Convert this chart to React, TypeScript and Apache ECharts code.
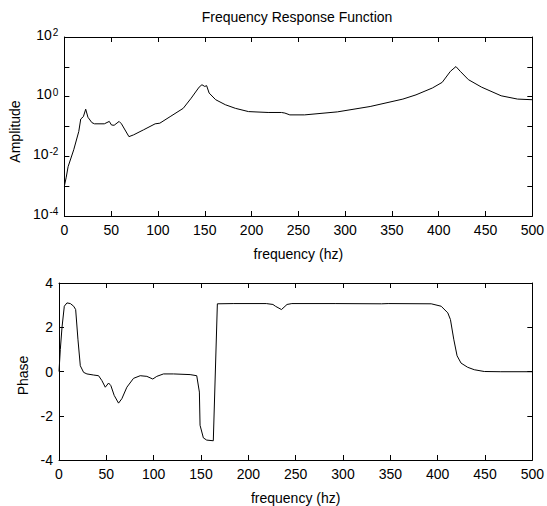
import React, { useEffect, useRef } from "react";
import * as echarts from "echarts";

const TITLE = "Frequency Response Function";
const X_NAME = "frequency (hz)";
const AMP_NAME = "Amplitude";
const PHASE_NAME = "Phase";

const ampFreq = [
  0, 2, 4, 10, 15.4, 17.5, 20.3, 22.8, 25.2, 29.4, 32.2, 42.7, 48, 50.4, 53.2, 58.5, 61, 69, 74, 84.7,
  97, 102, 113, 127, 135.5, 144, 147, 150, 152, 154.7, 161.7, 172, 182.7, 196.7, 217.7, 232, 235.6,
  240.9, 256.7, 291.7, 326.7, 361.7, 375.7, 393.2, 403.7, 412.5, 418.4, 423, 431.7, 445.7, 466.7,
  484.2, 500,
];
const amplitude = [
  0.001, 0.002, 0.0045, 0.0166, 0.068, 0.178, 0.214, 0.38, 0.204, 0.135, 0.123, 0.123, 0.148, 0.112,
  0.11, 0.148, 0.123, 0.0457, 0.0525, 0.0776, 0.123, 0.129, 0.214, 0.407, 0.89, 2.09, 2.51, 2.2, 2.34,
  1.32, 0.79, 0.537, 0.407, 0.316, 0.295, 0.295, 0.282, 0.245, 0.245, 0.309, 0.468, 0.83, 1.15, 1.95,
  3.02, 7.08, 10.2, 7.08, 3.72, 2.09, 1.07, 0.83, 0.79,
];

const phaseFreq = [
  0, 1.4, 3.2, 5.6, 8.4, 12, 15.5, 17.6, 20, 22.5, 26, 29.5, 36.6, 41.8, 45.3, 48.9, 52.4, 54.8, 58.3,
  62.9, 66.4, 71.7, 78.7, 85.8, 92.8, 99.1, 103.3, 110.4, 121, 138.5, 145.5, 148.3, 149, 152.5, 156,
  163, 167.3, 184, 219, 226, 228.6, 235, 240.9, 246, 291.7, 340.7, 347.7, 393.2, 403.7, 410.7, 413.5,
  417, 420.5, 424.7, 431.7, 438.7, 449.3, 466.7, 500,
];
const phase = [
  0, 1.0, 2.0, 2.95, 3.1, 3.07, 2.95, 2.8, 1.46, 0.26, -0.04, -0.11, -0.16, -0.19, -0.41, -0.71, -0.52,
  -0.64, -1.08, -1.43, -1.23, -0.71, -0.31, -0.19, -0.22, -0.34, -0.22, -0.11, -0.11, -0.14, -0.19,
  -0.93, -2.43, -3.0, -3.1, -3.13, 3.06, 3.07, 3.07, 3.03, 2.95, 2.8, 3.03, 3.07, 3.07, 3.06, 3.07,
  3.06, 2.95, 2.65, 2.35, 1.46, 0.71, 0.38, 0.19, 0.08, 0.0, -0.01, -0.01,
];

const FONT = "Liberation Sans, Arial, sans-serif";

function App() {
  const ref = useRef<HTMLDivElement>(null);

  useEffect(() => {
    document.body.style.margin = "0";
    if (!ref.current) return;
    const chart = echarts.init(ref.current, null, { renderer: "svg" });

    const line = { show: true, onZero: false, lineStyle: { color: "#000", width: 1 } };
    const tick = { show: true, inside: true, length: 5, lineStyle: { color: "#000", width: 1 } };
    const label = { fontSize: 14, color: "#000", fontFamily: FONT, margin: 7 };
    const nameStyle = { fontSize: 14, color: "#000", fontFamily: FONT };

    const xMain = (gridIndex: number) => ({
      type: "value",
      gridIndex,
      min: 0,
      max: 500,
      interval: 50,
      position: "bottom",
      axisLine: line,
      axisTick: tick,
      axisLabel: label,
      splitLine: { show: false },
      name: X_NAME,
      nameLocation: "middle",
      nameGap: 31,
      nameTextStyle: nameStyle,
    });
    const xMirror = (gridIndex: number) => ({
      type: "value",
      gridIndex,
      min: 0,
      max: 500,
      interval: 50,
      position: "top",
      axisLine: line,
      axisTick: tick,
      axisLabel: { show: false },
      splitLine: { show: false },
    });

    const logFormatter = (v: number) => {
      const e = Math.round(Math.log10(v));
      if (e % 2 !== 0) return "";
      return `{b|10}{s|${e}}`;
    };
    const logLabel = {
      ...label,
      margin: 6,
      formatter: logFormatter,
      padding: [0, 0, 5, 0],
      rich: {
        b: { fontSize: 14, lineHeight: 14, fontFamily: FONT, color: "#000", verticalAlign: "bottom" },
        s: {
          fontSize: 10,
          lineHeight: 10,
          fontFamily: FONT,
          color: "#000",
          verticalAlign: "top",
          padding: [0, 0, 9, 1],
        },
      },
    };

    const option = {
      animation: false,
      backgroundColor: "#fff",
      title: {
        text: TITLE,
        left: 297,
        top: 10,
        padding: 0,
        textAlign: "center",
        textStyle: { fontSize: 14, fontWeight: "normal", color: "#000", fontFamily: FONT },
      },
      grid: [
        { left: 59, top: 37, width: 476, height: 179 },
        { left: 59, top: 283, width: 476, height: 179 },
      ],
      xAxis: [xMain(0), xMirror(0), xMain(1), xMirror(1)],
      yAxis: [
        {
          type: "log",
          logBase: 10,
          gridIndex: 0,
          min: 0.0001,
          max: 100,
          interval: 1,
          position: "left",
          axisLine: line,
          axisTick: tick,
          axisLabel: logLabel,
          splitLine: { show: false },
          minorTick: { show: false },
          name: AMP_NAME,
          nameLocation: "middle",
          nameGap: 34,
          nameTextStyle: { ...nameStyle, padding: [0, 10, 0, 0] },
        },
        {
          type: "log",
          logBase: 10,
          gridIndex: 0,
          min: 0.0001,
          max: 100,
          interval: 1,
          position: "right",
          axisLine: line,
          axisTick: tick,
          axisLabel: { show: false },
          splitLine: { show: false },
        },
        {
          type: "value",
          gridIndex: 1,
          min: -4,
          max: 4,
          interval: 2,
          position: "left",
          axisLine: line,
          axisTick: tick,
          axisLabel: { ...label, margin: 6 },
          splitLine: { show: false },
          name: PHASE_NAME,
          nameLocation: "middle",
          nameGap: 23,
          nameTextStyle: { ...nameStyle, padding: [0, 8, 0, 0] },
        },
        {
          type: "value",
          gridIndex: 1,
          min: -4,
          max: 4,
          interval: 2,
          position: "right",
          axisLine: line,
          axisTick: tick,
          axisLabel: { show: false },
          splitLine: { show: false },
        },
      ],
      series: [
        {
          type: "line",
          xAxisIndex: 0,
          yAxisIndex: 0,
          data: ampFreq.map((f, i) => [f, amplitude[i]]),
          showSymbol: false,
          symbol: "none",
          lineStyle: { color: "#000", width: 1 },
        },
        {
          type: "line",
          xAxisIndex: 2,
          yAxisIndex: 2,
          data: phaseFreq.map((f, i) => [f, phase[i]]),
          showSymbol: false,
          symbol: "none",
          lineStyle: { color: "#000", width: 1 },
        },
      ],
    };

    chart.setOption(option as any);
    return () => chart.dispose();
  }, []);

  return <div ref={ref} style={{ width: 547, height: 506 }} />;
}

export default App;
